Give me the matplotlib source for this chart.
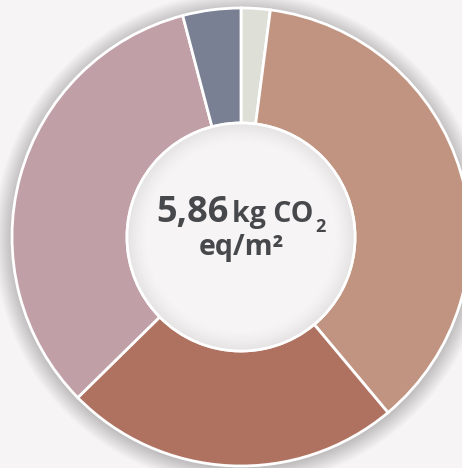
import numpy as np
import matplotlib.pyplot as plt
from matplotlib.patches import Circle

# kg CO2 eq/m2 per component, clockwise from 12 o'clock
labels = ['A', 'B', 'C', 'D', 'E']
values = [0.12, 2.16, 1.39, 1.95, 0.24]
colors = ['#dedfd7', '#c09480', '#b07260', '#c0a0a6', '#7a8094']
total_txt = '5,86'

bg = '#f6f4f5'
txt_col = '#47484b'
cx, cy = 241, 237
r_out, r_in = 229, 114

fig = plt.figure(figsize=(4.62, 4.68), dpi=100, facecolor=bg)
ax = fig.add_axes([0, 0, 1, 1])
ax.set_facecolor(bg)

# soft drop shadow around the ring
for k in range(18, 0, -1):
    ax.add_patch(Circle((cx, cy + 2), r_out + k, color='black',
                        alpha=0.012, lw=0, zorder=0))

# y axis is inverted below, so counterclock=True draws clockwise on screen
ax.pie(values, colors=colors, radius=r_out, center=(cx, cy),
       startangle=-90, counterclock=True,
       wedgeprops=dict(width=r_out - r_in, edgecolor='white', linewidth=2),
       frame=True)

# inner hole with inner shadow
ax.add_patch(Circle((cx, cy), r_in, color=bg, lw=0, zorder=3))
for k in range(22):
    ax.add_patch(Circle((cx, cy), r_in - k, fill=False, ec='black',
                        lw=1.2, alpha=0.045 * (1 - k / 22) ** 1.6, zorder=3))
ax.add_patch(Circle((cx, cy), r_in, fill=False, ec='white', lw=2, zorder=4))

font = 'Open Sans'
ax.text(156, 222, total_txt, fontsize=26, fontweight='bold', color=txt_col,
        family=font, ha='left', va='baseline', zorder=5)
ax.text(232, 222, 'kg CO', fontsize=20.5, fontweight='bold', color=txt_col,
        family=font, ha='left', va='baseline', zorder=5)
ax.text(315, 232, '2', fontsize=13, fontweight='bold', color=txt_col,
        family=font, ha='left', va='baseline', zorder=5)
ax.text(241, 255, 'eq/m²', fontsize=20.5, fontweight='bold', color=txt_col,
        family=font, ha='center', va='baseline', zorder=5)

ax.set_xlim(0, 462)
ax.set_ylim(468, 0)
ax.set_aspect('equal')
ax.axis('off')

fig.savefig('out.png', dpi=100, facecolor=bg)
